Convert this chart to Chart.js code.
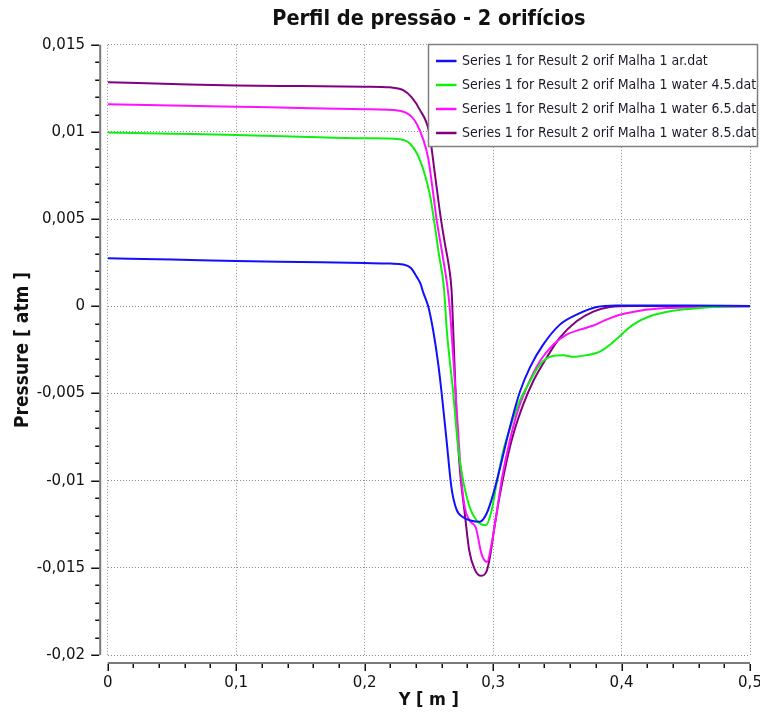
<!DOCTYPE html>
<html>
<head>
<meta charset="utf-8">
<script src="https://cdn.jsdelivr.net/npm/chart.js@4.4.0/dist/chart.umd.min.js"></script>
<style>
  body { margin:0; background:#fff; }
  #wrap { width:760px; height:715px; }
</style>
</head>
<body>
<div id="wrap"><canvas id="c" width="760" height="715"></canvas></div>
<script>
// Perfil de pressão - 2 orifícios
const seriesLabels = [
  "Series 1 for Result 2 orif Malha 1 ar.dat",
  "Series 1 for Result 2 orif Malha 1 water 4.5.dat",
  "Series 1 for Result 2 orif Malha 1 water 6.5.dat",
  "Series 1 for Result 2 orif Malha 1 water 8.5.dat"
];

const arX = [0,0.05,0.1,0.15,0.2,0.22,0.23,0.236,0.2405,0.2435,0.2456,0.2495,0.2534,0.2573,0.26,0.2638,0.2676,0.2715,0.2767,0.2832,0.2897,0.2949,0.3,0.3053,0.3105,0.3157,0.3209,0.3287,0.339,0.352,0.365,0.3806,0.396,0.45,0.5];
const arY = [0.00275,0.00268,0.0026,0.00254,0.00248,0.00245,0.0024,0.0022,0.0017,0.0013,0.0008,0,-0.0014,-0.0033,-0.005,-0.0077,-0.0104,-0.01165,-0.0121,-0.0123,-0.01235,-0.0119,-0.0108,-0.0093,-0.0077,-0.0062,-0.0049,-0.0035,-0.0022,-0.00105,-0.00048,-0.00004,0.00005,0.00004,0.00002];

const w45X = [0,0.05,0.1,0.15,0.2,0.227,0.235,0.243,0.2508,0.2539,0.2578,0.2617,0.264,0.2689,0.2728,0.2767,0.2819,0.2871,0.2944,0.2988,0.3027,0.3079,0.3131,0.3209,0.3287,0.3364,0.3455,0.3546,0.3623,0.3728,0.3832,0.391,0.3988,0.409,0.422,0.44,0.461,0.487,0.5];
const w45Y = [0.00997,0.0099,0.00983,0.00973,0.00964,0.00958,0.00935,0.0084,0.0064,0.005,0.003,0.0011,-0.0014,-0.0049,-0.0081,-0.01,-0.01155,-0.01228,-0.01256,-0.01174,-0.0102,-0.0083,-0.007,-0.0054,-0.0043,-0.00334,-0.00286,-0.0028,-0.0029,-0.0028,-0.0026,-0.0022,-0.0017,-0.00105,-0.00057,-0.00025,-0.0001,0,0];

const w65X = [0,0.05,0.1,0.15,0.2,0.227,0.2365,0.241,0.2455,0.2495,0.2528,0.256,0.2605,0.2645,0.2665,0.2702,0.2728,0.2754,0.278,0.2819,0.2866,0.291,0.2953,0.2988,0.3027,0.3066,0.3118,0.3183,0.326,0.3364,0.3468,0.3572,0.3676,0.378,0.3884,0.3988,0.4143,0.435,0.461,0.5];
const w65Y = [0.01159,0.01152,0.01145,0.01138,0.0113,0.01122,0.01088,0.0104,0.0096,0.0085,0.0068,0.005,0.003,0.0011,-0.0003,-0.0043,-0.0072,-0.01,-0.01155,-0.0123,-0.0127,-0.0142,-0.01466,-0.01365,-0.0119,-0.01,-0.0081,-0.0062,-0.00468,-0.00315,-0.0022,-0.00162,-0.00134,-0.0011,-0.00076,-0.00048,-0.00025,-0.0001,-0.00004,0];

const w85X = [0,0.05,0.1,0.15,0.2,0.2196,0.23,0.2365,0.243,0.2502,0.2547,0.259,0.2625,0.2658,0.2677,0.269,0.2715,0.2741,0.278,0.2814,0.2858,0.2905,0.2949,0.2975,0.3014,0.3053,0.3105,0.3157,0.3235,0.3312,0.3416,0.352,0.365,0.378,0.391,0.409,0.45,0.5];
const w85Y = [0.01285,0.01275,0.01266,0.01263,0.0126,0.01256,0.0124,0.012,0.01127,0.01,0.0076,0.0052,0.0036,0.0022,0.0009,-0.0014,-0.0062,-0.0093,-0.0119,-0.014,-0.0151,-0.01546,-0.0152,-0.0144,-0.0125,-0.0108,-0.0089,-0.00735,-0.00563,-0.0043,-0.00296,-0.0018,-0.00086,-0.0003,-0.00004,0.00002,0.00002,0];

const xMin = 0, xMax = 0.5, xStep = 0.1, xMinor = 0.02;
const yMin = -0.02, yMax = 0.015, yStep = 0.005, yMinor = 0.001;

function pts(xs, ys){ return xs.map((x,i)=>({x, y: ys[i]})); }
function fmt(v){ return Number(v.toFixed(4)).toString().replace(".", ","); }

const FONT = "'DejaVu Sans', Verdana, sans-serif";
const FONTC = "'DejaVu Sans Condensed', 'DejaVu Sans', sans-serif";

// axis lines drawn a little away from the plot, like the original
const axesPlugin = {
  id: "axes",
  afterDraw(chart){
    const {ctx, chartArea: a, scales: {x, y}} = chart;
    const ax = a.left - 7.5, ay = a.bottom + 8;
    ctx.save();
    ctx.strokeStyle = "#7a7a7a"; ctx.lineWidth = 2;
    ctx.beginPath(); ctx.moveTo(ax, a.top); ctx.lineTo(ax, a.bottom); ctx.stroke();
    ctx.beginPath(); ctx.moveTo(a.left, ay); ctx.lineTo(a.right, ay); ctx.stroke();
    ctx.strokeStyle = "#111"; ctx.lineWidth = 1.5;
    for(let i = 0; i <= Math.round((yMax - yMin)/yMinor); i++){
      const v = yMin + i*yMinor, py = Math.round(y.getPixelForValue(v)) + 0.25;
      const major = i % 5 === 0;
      ctx.beginPath(); ctx.moveTo(ax - 1, py); ctx.lineTo(ax - (major ? 9 : 5), py); ctx.stroke();
    }
    for(let i = 0; i <= Math.round((xMax - xMin)/xMinor); i++){
      const v = xMin + i*xMinor, px = Math.round(x.getPixelForValue(v)) + 0.25;
      const major = i % 5 === 0;
      ctx.beginPath(); ctx.moveTo(px, ay + 1); ctx.lineTo(px, ay + (major ? 8 : 5)); ctx.stroke();
    }
    ctx.restore();
  }
};

// boxed legend in the upper right corner
const legendPlugin = {
  id: "boxLegend",
  afterDraw(chart){
    const ctx = chart.ctx;
    const L = 428.5, T = 44.5, W = 329, H = 102;
    ctx.save();
    ctx.fillStyle = "#fff"; ctx.fillRect(L, T, W, H);
    ctx.strokeStyle = "#808080"; ctx.lineWidth = 1.5; ctx.strokeRect(L, T, W, H);
    ctx.font = "14px " + FONTC; ctx.textBaseline = "middle"; ctx.fillStyle = "#1c1c2a";
    chart.data.datasets.forEach((ds, i) => {
      const yy = T + 16.5 + i*24;
      ctx.strokeStyle = ds.borderColor; ctx.lineWidth = 2.5;
      ctx.beginPath(); ctx.moveTo(L + 7.5, yy); ctx.lineTo(L + 28, yy); ctx.stroke();
      ctx.fillText(ds.label, L + 33.5, yy);
    });
    ctx.restore();
  }
};

const line = (label, data, color) => ({
  label, data, borderColor: color, backgroundColor: color,
  borderWidth: 2, pointRadius: 0, cubicInterpolationMode: "monotone", fill: false
});

new Chart(document.getElementById("c"), {
  type: "line",
  data: {
    datasets: [
      line(seriesLabels[0], pts(arX, arY), "#1010ff"),
      line(seriesLabels[1], pts(w45X, w45Y), "#10f010"),
      line(seriesLabels[2], pts(w65X, w65Y), "#ff10ff"),
      line(seriesLabels[3], pts(w85X, w85Y), "#800080")
    ]
  },
  options: {
    responsive: false,
    animation: false,
    layout: { padding: 0 },
    plugins: {
      legend: { display: false },
      tooltip: { enabled: false },
      title: {
        display: true, text: "Perfil de pressão - 2 orifícios", fullSize: false,
        color: "#111", font: { family: FONTC, size: 21.5, weight: "bold" },
        padding: { top: 7, bottom: 12 }
      }
    },
    scales: {
      x: {
        type: "linear", min: xMin, max: xMax,
        afterFit: s => { s.height = 60; s.paddingRight = 10; },
        ticks: { stepSize: xStep, padding: 0, color: "#111", font: { family: FONT, size: 15 }, callback: fmt, maxRotation: 0 },
        grid: { color: "#8a8a8a", lineWidth: 1, drawTicks: true, tickLength: 19, tickColor: "rgba(0,0,0,0)" },
        border: { display: false, dash: [1, 2] },
        title: { display: true, text: "Y [ m ]", color: "#111", font: { family: FONTC, size: 18, weight: "bold" }, padding: { top: 0, bottom: 4 } }
      },
      y: {
        type: "linear", min: yMin, max: yMax,
        afterFit: s => { s.width = 107.7; },
        ticks: { stepSize: yStep, padding: 22.7, color: "#111", font: { family: FONT, size: 15 }, callback: fmt },
        grid: { color: "#8a8a8a", lineWidth: 1, drawTicks: false },
        border: { display: false, dash: [1, 2] },
        title: { display: true, text: "Pressure [ atm ]", color: "#111", font: { family: FONTC, size: 19, weight: "bold" }, padding: { top: 12, bottom: 2 } }
      }
    }
  },
  plugins: [axesPlugin, legendPlugin]
});
</script>
</body>
</html>
